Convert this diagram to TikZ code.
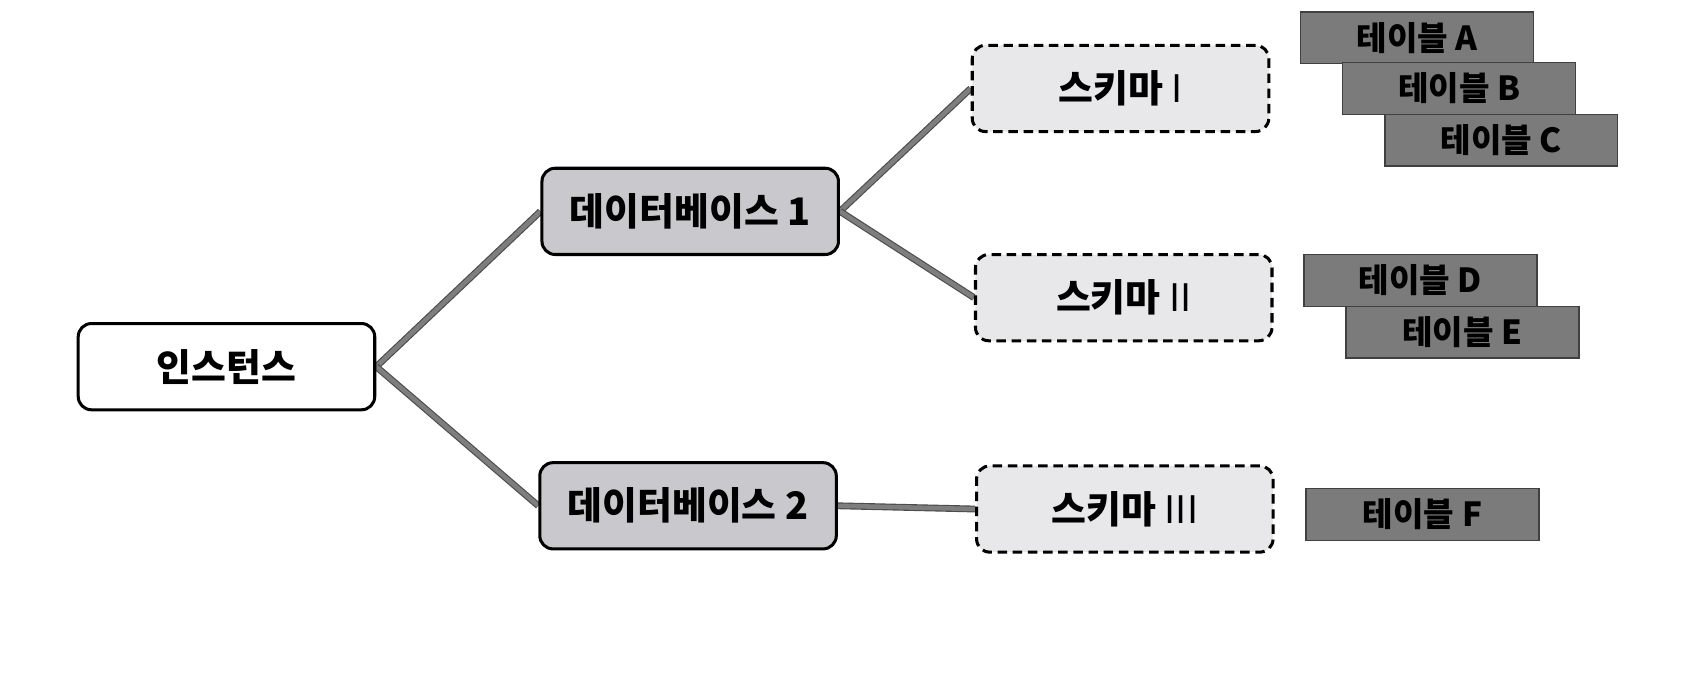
\documentclass[tikz,border=0pt]{standalone}
\usepackage{fontspec}
\setmainfont{Noto Sans CJK KR}
\usepackage{tikz}
\usetikzlibrary{positioning, backgrounds}
\definecolor{dbgray}{HTML}{C9C9CD}
\definecolor{schemagray}{HTML}{E8E7EA}
\definecolor{tablegray}{HTML}{7B7B7B}
\definecolor{linkgray}{HTML}{7E7E7E}
\tikzset{
  box/.style={draw=black, line width=1.6pt, rounded corners=7pt, minimum width=5.5cm, minimum height=1.6cm, font=\fontsize{20}{24}\selectfont\bfseries},
  instbox/.style={box, fill=white},
  dbbox/.style={box, fill=dbgray},
  schemabox/.style={box, fill=schemagray, dash pattern=on 5pt off 3pt},
  tablebox/.style={draw=black!75, line width=0.8pt, fill=tablegray, minimum width=4.32cm, minimum height=0.96cm, font=\fontsize{17.5}{20}\selectfont\bfseries},
  link/.style={draw=black!70, double=linkgray, double distance=2.4pt, line width=0.6pt}
}
\newcommand{\schnum}[1]{{\mdseries #1}}

\begin{document}
\begin{tikzpicture}[x=0.02cm, y=-0.02cm]
  \useasboundingbox (0,0) rectangle (1568,624);

  % Instance
  \node[instbox] (inst) at (210,340) {인스턴스};

  % Databases
  \node[dbbox] (db1) at (640,196) {데이터베이스 1};
  \node[dbbox] (db2) at (638,469) {데이터베이스 2};

  % Schemas
  \node[schemabox] (sch1) at (1039,82) {스키마 \schnum{I}};
  \node[schemabox] (sch2) at (1042,276) {스키마 \schnum{II}};
  \node[schemabox] (sch3) at (1043,472) {스키마 \schnum{III}};

  % Tables
  \node[tablebox] (tabA) at (1314,35) {테이블 A};
  \node[tablebox] (tabB) at (1353,82) {테이블 B};
  \node[tablebox] (tabC) at (1392,130) {테이블 C};
  \node[tablebox] (tabD) at (1317,260) {테이블 D};
  \node[tablebox] (tabE) at (1356,308) {테이블 E};
  \node[tablebox] (tabF) at (1319,477) {테이블 F};

  % Links
  \begin{scope}[on background layer]
    \draw[link] (inst.east) -- (db1.west);
    \draw[link] (inst.east) -- (db2.west);
    \draw[link] (db1.east) -- (sch1.west);
    \draw[link] (db1.east) -- (sch2.west);
    \draw[link] (db2.east) -- (sch3.west);
  \end{scope}
\end{tikzpicture}
\end{document}
